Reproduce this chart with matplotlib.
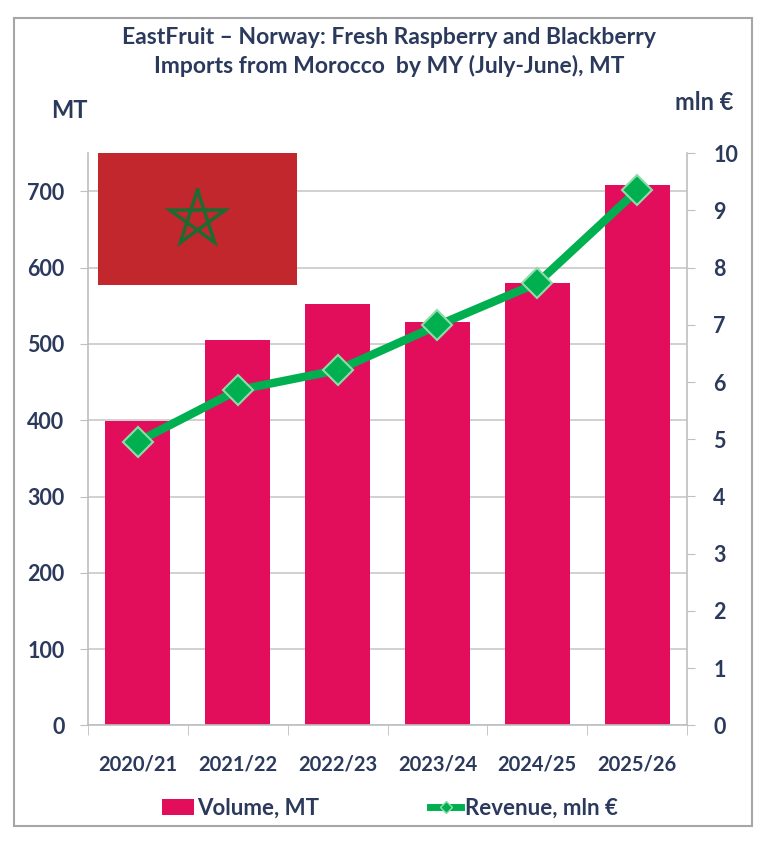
import numpy as np
import matplotlib
matplotlib.use("Agg")
import matplotlib.pyplot as plt
from matplotlib.patches import Rectangle, Patch
from matplotlib.lines import Line2D

seasons = ["2020/21", "2021/22", "2022/23", "2023/24", "2024/25", "2025/26"]
volume_mt = [399, 505, 552, 529, 580, 708]
revenue_mln_eur = [4.96, 5.86, 6.21, 6.99, 7.73, 9.35]

title = ("EastFruit \u2013 Norway: Fresh Raspberry and Blackberry\n"
         "Imports from Morocco  by MY (July-June), MT")

text_color = "#2b3a5c"
bar_color = "#e20e5b"
line_color = "#00b050"
grid_color = "#c8c8c8"

plt.rcParams["font.family"] = ["Lato", "DejaVu Sans"]
plt.rcParams["font.weight"] = "bold"

W, H = 768, 844
fig = plt.figure(figsize=(W / 100, H / 100), dpi=100)

# outer frame
fig.patches.append(Rectangle((14 / W, 1 - 826 / H), (752 - 14) / W, (826 - 18) / H,
                             transform=fig.transFigure, fill=False,
                             edgecolor="#a6a6a6", linewidth=1.5))

ax = fig.add_axes([88 / W, 1 - 725.3 / H, (687 - 88) / W, (725.3 - 153.3) / H])
x = np.arange(len(seasons))
ax.bar(x, volume_mt, width=0.65, color=bar_color, zorder=2)
ax.set_xlim(-0.5, len(seasons) - 0.5)
ax.set_ylim(0, 750)
ax.set_yticks(range(0, 701, 100))
ax.set_xticks(x)
ax.set_xticklabels(seasons)
ax.set_xticks(np.arange(-0.5, len(seasons), 1), minor=True)
ax.tick_params(axis="x", which="major", length=0, pad=21, labelsize=14.5, labelcolor=text_color)
ax.tick_params(axis="x", which="minor", length=7, color="#bfbfbf", direction="out")
ax.tick_params(axis="y", length=6, color="#bfbfbf", pad=11, labelsize=15.5, labelcolor=text_color)
ax.grid(axis="y", color=grid_color, linewidth=1.2, zorder=0)
ax.set_axisbelow(True)
for side in ["top", "right"]:
    ax.spines[side].set_visible(False)
for side in ["left", "bottom"]:
    ax.spines[side].set_color("#bfbfbf")
    ax.spines[side].set_linewidth(1.2)

ax2 = ax.twinx()
ax2.plot(x, revenue_mln_eur, color=line_color, linewidth=6, marker="D", markersize=15,
         markerfacecolor=line_color, markeredgecolor="#8fdcaa", markeredgewidth=1.5,
         zorder=3, solid_capstyle="round")
ax2.set_ylim(0, 10)
ax2.set_yticks(range(0, 11))
ax2.tick_params(axis="y", length=6, color="#bfbfbf", pad=13, labelsize=15.5, labelcolor=text_color)
for side in ["top", "left", "bottom"]:
    ax2.spines[side].set_visible(False)
ax2.spines["right"].set_color("#bfbfbf")
ax2.spines["right"].set_linewidth(1.2)

fig.text(69 / W, 1 - 111 / H, "MT", ha="center", va="center", fontsize=17, color=text_color)
fig.text(704 / W, 1 - 102 / H, "mln \u20ac", ha="center", va="center", fontsize=17, color=text_color)
fig.text(389 / W, 1 - 52 / H, title, ha="center", va="center", fontsize=16.5,
         color=text_color, linespacing=1.42)

# Moroccan flag
fax = fig.add_axes([98 / W, 1 - 285 / H, 199 / W, 132 / H])
fax.set_xlim(0, 1.5)
fax.set_ylim(0, 1)
fax.add_patch(Rectangle((0, 0), 1.5, 1, color="#c1272d"))
ang = np.pi / 2 + np.arange(5) * 2 * np.pi / 5
order = [0, 2, 4, 1, 3, 0]
r = 0.22
fax.plot(0.75 + r * np.cos(ang[order]), 0.5 + r * np.sin(ang[order]),
         color="#1e6b32", linewidth=2.5, solid_joinstyle="miter")
fax.axis("off")

handles = [Patch(facecolor=bar_color, edgecolor="none"),
           Line2D([0], [0], color=line_color, linewidth=5, marker="D", markersize=6,
                  markerfacecolor=line_color, markeredgecolor="#8fdcaa")]
fig.legend(handles, ["Volume, MT", "Revenue, mln \u20ac"], loc="center",
           bbox_to_anchor=(390 / W, 1 - 808 / H), ncol=2, frameon=False,
           fontsize=16, labelcolor=text_color, handlelength=1.4, handletextpad=0.15,
           columnspacing=5.0)

fig.savefig("out.png", dpi=100)
